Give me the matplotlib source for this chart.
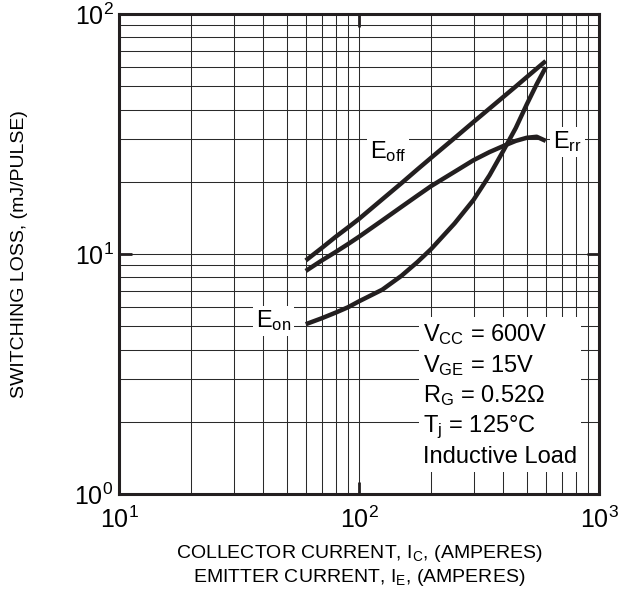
import numpy as np
import matplotlib
matplotlib.use("Agg")
import matplotlib.pyplot as plt

plt.rcParams['font.family'] = ['Liberation Sans', 'DejaVu Sans']
plt.rcParams['mathtext.fontset'] = 'custom'
plt.rcParams['mathtext.rm'] = 'Liberation Sans'
plt.rcParams['mathtext.it'] = 'Liberation Sans'
plt.rcParams['mathtext.bf'] = 'Liberation Sans:bold'

# switching loss vs collector current (A -> mJ per pulse)
current = [60, 70, 80, 90, 100, 125, 150, 175, 200, 250, 300, 350, 400, 450, 500, 550, 600]
e_off = [9.4, 10.6, 11.8, 12.9, 14.0, 16.9, 19.7, 22.5, 25.2, 30.4, 35.5, 40.4, 45.2, 49.9, 54.6, 59.2, 63.7]
e_rr = [8.5, 9.4, 10.2, 11.0, 11.8, 13.8, 15.7, 17.5, 19.2, 22.0, 24.6, 26.6, 28.2, 29.6, 30.5, 30.8, 29.6]
e_on = [5.1, 5.4, 5.7, 6.0, 6.35, 7.1, 8.1, 9.25, 10.5, 13.4, 16.8, 21.3, 27.0, 33.5, 42.0, 51.0, 60.0]

conditions = ["V$_{CC}$ = 600V", "V$_{GE}$ = 15V", "R$_G$ = 0.52\u03a9",
              "T$_j$ = 125\u00b0C", "Inductive Load"]

ink = '#231f20'

fig = plt.figure(figsize=(6.24, 5.9), dpi=100)
ax = fig.add_axes([119 / 624, 96 / 590, 480 / 624, 480 / 590])
ax.set_xscale('log')
ax.set_yscale('log')
ax.set_xlim(10, 1000)
ax.set_ylim(1, 100)

ax.grid(True, which='both', color='#2a2a2a', linewidth=0.75)
ax.set_axisbelow(True)

for y in (e_off, e_rr, e_on):
    ax.plot(current, y, color=ink, linewidth=3.2, solid_capstyle='butt',
            solid_joinstyle='round', zorder=3)

box = dict(facecolor='white', edgecolor='none', pad=2)
ax.text(132, 26.6, "E$_{off}$", fontsize=17, ha='center', va='center', bbox=box, zorder=4)
ax.text(738, 29.3, "E$_{rr}$", fontsize=17, ha='center', va='center', bbox=box, zorder=4)
ax.text(44, 5.26, "E$_{on}$", fontsize=17, ha='center', va='center', bbox=box, zorder=4)

ax.text(0.633, 0.206, "\n".join(conditions), transform=ax.transAxes,
        fontsize=17, ha='left', va='center', linespacing=1.3,
        bbox=dict(facecolor='white', edgecolor='none', pad=3), zorder=4)

for s in ax.spines.values():
    s.set_linewidth(2.2)
    s.set_color(ink)

ax.tick_params(which='major', direction='in', length=9, width=2, color=ink,
               top=True, right=True, labelsize=18)
ax.tick_params(axis='x', which='major', pad=9)
ax.tick_params(axis='y', which='major', pad=4)
ax.tick_params(which='minor', length=0)

ax.set_ylabel("SWITCHING LOSS, (mJ/PULSE)", fontsize=14)
ax.yaxis.set_label_coords(-0.19, 0.5)
ax.set_xlabel("COLLECTOR CURRENT, I$_C$, (AMPERES)\nEMITTER CURRENT, I$_E$, (AMPERES)",
              fontsize=14, labelpad=7, linespacing=1.25)

fig.savefig('out.png', dpi=100)
